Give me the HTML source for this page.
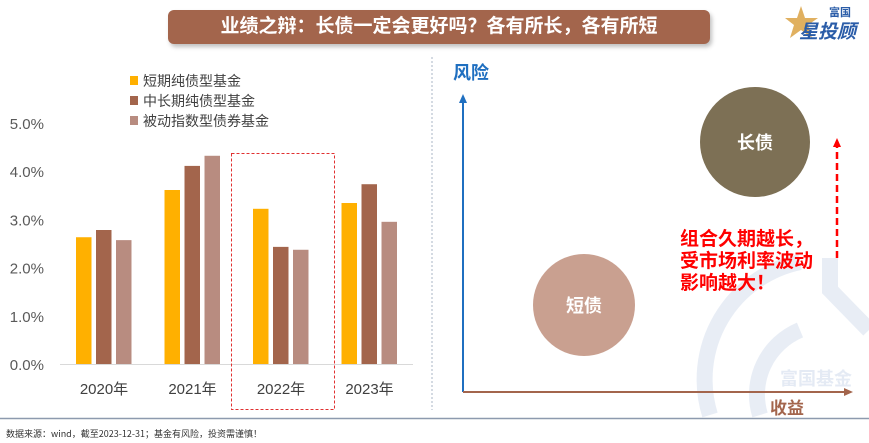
<!DOCTYPE html>
<html><head><meta charset="utf-8"><style>
body{margin:0;width:869px;height:443px;overflow:hidden;background:#fff;font-family:"Liberation Sans","Noto Sans CJK SC",sans-serif;position:relative}
.abs{position:absolute}
</style></head><body>
<div class="abs" style="left:168px;top:10px;width:542px;height:34px;background:#a3654c;border-radius:6px;box-shadow:2px 3px 4px rgba(0,0,0,.25);color:#fff;font-weight:bold;font-size:19px;line-height:34px;text-align:center;font-family:'Liberation Sans','Noto Sans CJK SC',sans-serif">业绩之辩：长债一定会更好吗？各有所长，各有所短</div>
<div class="abs" style="left:785px;top:2px;width:80px;height:40px">
<svg width="80" height="40"><polygon points="16,4 20,16 33,16 23,23 27,36 16,28 5,36 9,23 0,16 12,16" fill="#e0b060"/>
<text x="44" y="14" font-size="11" font-weight="bold" fill="#2a5ca8" font-family="Noto Sans CJK SC,sans-serif">富国</text>
<text x="14" y="36" font-size="19" font-weight="bold" font-style="italic" fill="#2a5ca8" font-family="Noto Sans CJK SC,sans-serif">星投顾</text></svg></div>
<svg class="abs" style="left:0;top:0" width="869" height="443">
<!-- watermark -->
<g opacity="0.1" fill="none" stroke="#2a5ca8" stroke-width="16">
<path d="M710,415 A120,120 0 0 1 800,262"/><path d="M830,258 L830,290 L869,330"/>
<path d="M760,415 A70,70 0 0 1 800,330"/>
</g>
<text x="780" y="385" font-size="18" font-weight="bold" fill="#2a5ca8" opacity="0.12" font-family="Noto Sans CJK SC,sans-serif">富国基金</text>
<g id="bars"></g>
<line x1="60" y1="364.5" x2="413" y2="364.5" stroke="#d9d9d9" stroke-width="1"/>
<rect x="231.5" y="153.5" width="103" height="256" fill="none" stroke="#e03030" stroke-dasharray="3,2" stroke-width="1"/>
<line x1="432" y1="57" x2="432" y2="410" stroke="#aab4c4" stroke-dasharray="2,2"/>
<line x1="0" y1="418.5" x2="869" y2="418.5" stroke="#8d9aae" stroke-width="1.5"/>
<!-- right diagram -->
<line x1="463" y1="392" x2="463" y2="102" stroke="#1f6fc0" stroke-width="2"/>
<polygon points="463,94 459,103 467,103" fill="#1f6fc0"/>
<line x1="463" y1="392" x2="846" y2="392" stroke="#a3654c" stroke-width="2"/>
<polygon points="853,392 844,388 844,396" fill="#a3654c"/>
<text x="453" y="79" font-size="18" font-weight="bold" fill="#1f6fc0" font-family="Noto Sans CJK SC,sans-serif">风险</text>
<text x="770" y="414" font-size="17" font-weight="bold" fill="#a3654c" font-family="Noto Sans CJK SC,sans-serif">收益</text>
<circle cx="755" cy="142" r="55" fill="#7d7055"/>
<text x="755" y="149" text-anchor="middle" font-size="18" font-weight="bold" fill="#fff" font-family="Noto Sans CJK SC,sans-serif">长债</text>
<circle cx="584" cy="305" r="51" fill="#c9a090"/>
<text x="584" y="312" text-anchor="middle" font-size="18" font-weight="bold" fill="#fff" font-family="Noto Sans CJK SC,sans-serif">短债</text>
<g font-size="19" font-weight="bold" fill="#ff0000" font-family="Noto Sans CJK SC,sans-serif">
<text x="680" y="245">组合久期越长，</text><text x="680" y="267">受市场利率波动</text><text x="680" y="289">影响越大！</text></g>
<line x1="837" y1="258" x2="837" y2="147" stroke="#ff0000" stroke-width="2.5" stroke-dasharray="7,4"/>
<polygon points="837,138 833,147 841,147" fill="#ff0000"/>
<text x="6" y="437" font-size="9" fill="#333" font-family="Noto Sans CJK SC,sans-serif">数据来源：wind，截至2023-12-31；基金有风险，投资需谨慎！</text>
</svg>
<script>
const categories=["2020年","2021年","2022年","2023年"];
const shortTerm=[2.63,3.61,3.22,3.34];
const midLong=[2.78,4.11,2.43,3.73];
const passive=[2.57,4.32,2.37,2.95];
const seriesNames=["短期纯债型基金","中长期纯债型基金","被动指数型债券基金"];
const yTicks=[0,1,2,3,4,5];
const colors=["#ffb000","#a3654c","#b88c80"];
const NS="http://www.w3.org/2000/svg";
const svg=document.querySelector('svg.abs');
const g=document.getElementById('bars');
function yS(v){return 364-v*48.2;}
function xS(i){return 104+i*88.5;}
const series=[shortTerm,midLong,passive];
series.forEach((arr,s)=>{arr.forEach((v,i)=>{
 const r=document.createElementNS(NS,'rect');
 r.setAttribute('x',xS(i)-28+s*20);r.setAttribute('width',15.5);
 r.setAttribute('y',yS(v));r.setAttribute('height',364-yS(v));r.setAttribute('fill',colors[s]);
 
 
 g.appendChild(r);});});
yTicks.forEach(t=>{const tx=document.createElementNS(NS,'text');
 tx.setAttribute('x',44);tx.setAttribute('y',yS(t)+6);tx.setAttribute('text-anchor','end');
 tx.setAttribute('font-size','15');tx.setAttribute('fill','#595959');tx.textContent=t.toFixed(1)+'%';
 
 
 svg.appendChild(tx);});
categories.forEach((c,i)=>{const tx=document.createElementNS(NS,'text');
 tx.setAttribute('x',xS(i));tx.setAttribute('y',394);tx.setAttribute('text-anchor','middle');
 tx.setAttribute('font-size','15');tx.setAttribute('fill','#404040');tx.setAttribute('font-family','Liberation Sans,Noto Sans CJK SC,sans-serif');tx.textContent=c;
 
 
 svg.appendChild(tx);});
seriesNames.forEach((n,s)=>{const y=81+s*20;
 const r=document.createElementNS(NS,'rect');r.setAttribute('x',130);r.setAttribute('y',y-5);r.setAttribute('width',8);r.setAttribute('height',9);r.setAttribute('fill',colors[s]);
 
 
 svg.appendChild(r);
 const tx=document.createElementNS(NS,'text');tx.setAttribute('x',143);tx.setAttribute('y',y+5);tx.setAttribute('font-size','14');tx.setAttribute('fill','#404040');tx.setAttribute('font-family','Noto Sans CJK SC,sans-serif');tx.textContent=n;
 
 
 svg.appendChild(tx);});
</script>
</body></html>
